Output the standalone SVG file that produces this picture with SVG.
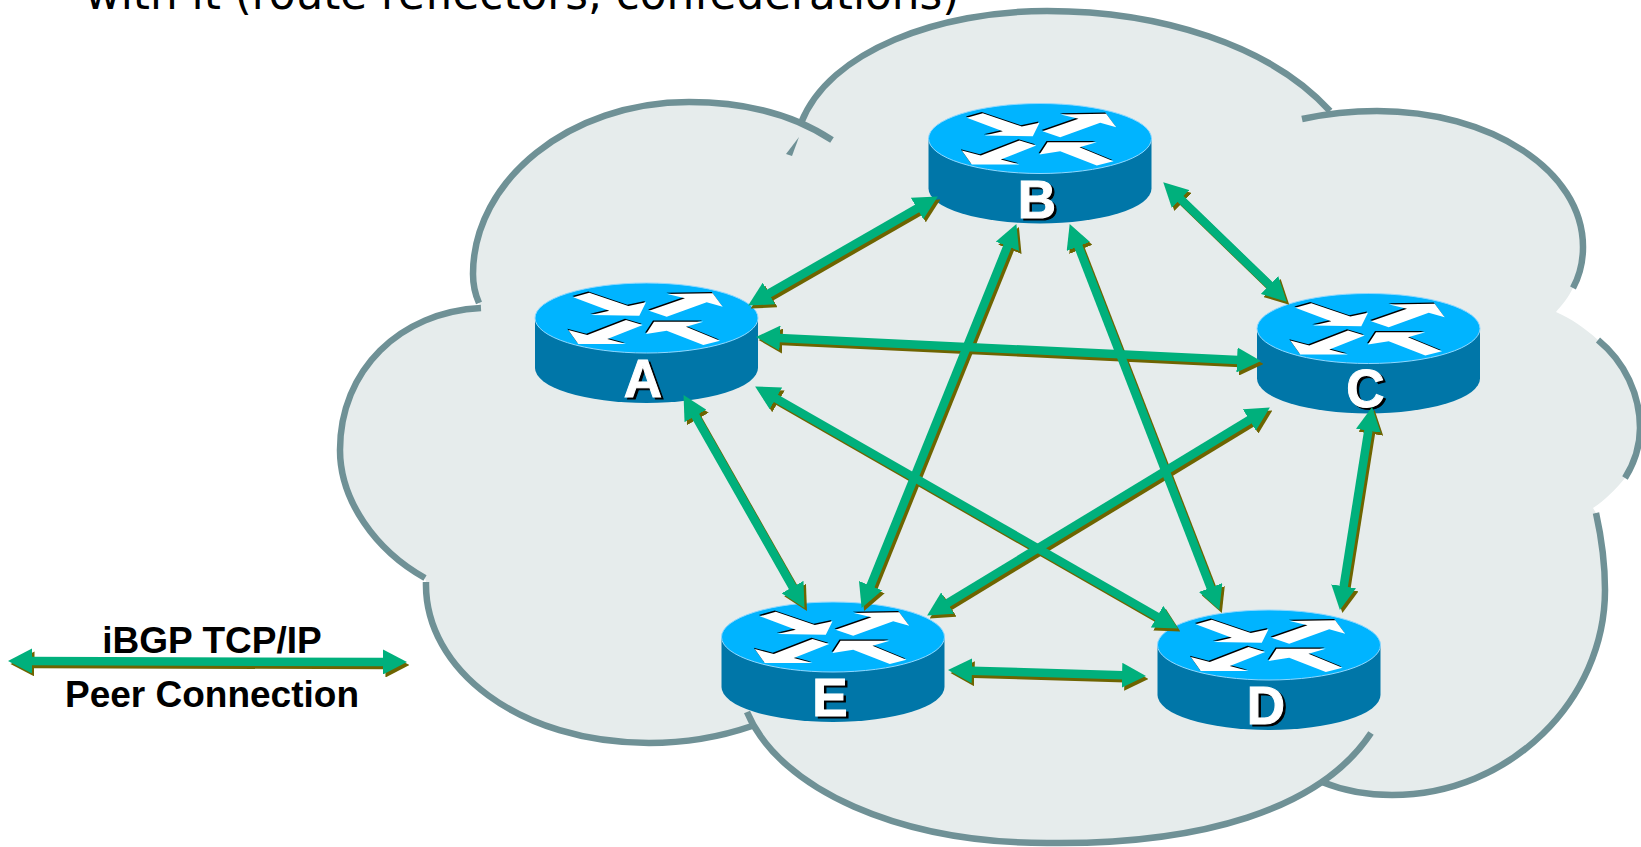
<svg xmlns="http://www.w3.org/2000/svg" width="1641" height="847" viewBox="0 0 1641 847">
<style>
.edge{fill:none;stroke:#6F9196;stroke-width:6.5}
.gl{stroke:#00B07C;stroke-width:8.5;fill:none;marker-start:url(#hg);marker-end:url(#hg)}
.ol{stroke:#6E6400;stroke-width:8.5;fill:none;marker-start:url(#ho);marker-end:url(#ho)}
.lt{font-family:"Liberation Sans",Arial,sans-serif;font-weight:700;font-size:53px;text-anchor:middle;stroke-width:1}
.bk{fill:#000;stroke:#000}
.wh{fill:#fff;stroke:#fff}
.lg{font-family:"Liberation Sans",Arial,sans-serif;font-weight:700;font-size:37px;text-anchor:middle;fill:#000}
</style>
<defs>
<marker id="hg" viewBox="0 0 24 25" refX="1" refY="12.5" markerWidth="24" markerHeight="25" markerUnits="userSpaceOnUse" orient="auto-start-reverse"><path d="M0,0L24,12.5L0,25Z" fill="#00B07C"/></marker>
<marker id="ho" viewBox="0 0 24 25" refX="1" refY="12.5" markerWidth="24" markerHeight="25" markerUnits="userSpaceOnUse" orient="auto-start-reverse"><path d="M0,0L24,12.5L0,25Z" fill="#6E6400"/></marker>
<g id="glyphs">
<polygon points="-73.2,-20.7 -57.2,-25.3 -18.2,-12 -0.5,-15.7 -7.2,-2.3 -55.5,-3 -37.2,-7.3"/>
<polygon points="2.5,-7.3 38.5,-19.7 20.8,-24 66.2,-24.7 76.2,-11.3 60.2,-15.7 20.2,-1.3"/>
<polygon points="-78.2,12 -59.2,17 -20.5,2 -3.8,7 -39.2,21 -20.5,26 -68.2,26"/>
<polygon points="-0.5,16 7.5,3.7 56.8,3.7 39.5,8.7 73.5,22.7 56.8,27 20.2,12.7"/>
</g>
<g id="router">
<path d="M-111.5,0V50A111.5,35 0 0 0 111.5,50V0Z" fill="#0076A8"/>
<ellipse rx="111.5" ry="35" fill="#00B4FF" stroke="#8FD8FF" stroke-width="1"/>
<use href="#glyphs" x="-1" y="-1.3" fill="#000"/>
<use href="#glyphs" fill="#fff"/>
</g>
</defs>
<rect width="1641" height="847" fill="#fff"/>
<text x="85" y="8.5" font-family="'DejaVu Sans',Verdana,sans-serif" font-size="43.7" fill="#000">with it (route reflectors, confederations)</text>
<g id="cloud">
<path fill="#E6ECEC" d="M801,123C830,50 940,11 1047,11C1160,11 1270,45 1330,111C1350,111 1364,111 1377,111C1490,111 1583,170 1583,247C1583,261 1580,275 1573,288C1568,298 1562,305 1556,312C1570,318 1585,328 1598,340C1625,362 1640,395 1640,428C1640,445 1635,462 1625,478C1615,490 1605,500 1593,508L1596,513C1602,540 1605,565 1605,590C1605,700 1510,795 1392,795C1366,795 1342,790 1322,782C1290,810 1200,843 1047,843C900,843 780,790 747,712L752,726C720,737 685,743 649,743C520,743 424,670 426,582L425,578C375,550 340,500 340,450C340,370 400,312 481,308L479,303C475,294 473,284 473,274C473,180 570,102 689,102C740,102 790,112 832,140Z"/>
<path class="edge" d="M801,123C830,50 940,11 1047,11C1160,11 1270,45 1330,111"/>
<path class="edge" d="M1302,119C1325,114 1350,111 1377,111C1490,111 1583,170 1583,247C1583,261 1580,275 1573,288"/>
<path class="edge" d="M1598,340C1625,362 1640,395 1640,428C1640,445 1635,462 1625,478"/>
<path class="edge" d="M1322,782C1342,790 1366,795 1392,795C1510,795 1605,700 1605,590C1605,565 1602,540 1596,513"/>
<path class="edge" d="M747,712C780,790 900,843 1047,843C1200,845 1320,810 1371,733"/>
<path class="edge" d="M426,582C424,670 520,743 649,743C685,743 720,737 752,726"/>
<path class="edge" d="M481,308C400,312 340,370 340,450C340,500 375,550 425,578"/>
<path class="edge" d="M832,140C790,112 740,102 689,102C570,102 473,180 473,274C473,284 475,294 479,303"/>
<polygon points="799,137 786,154 792,156" fill="#6F9196"/>
</g>
<g id="node-A" transform="translate(646.5,318)"><use href="#router"/><text class="lt bk" x="-1" y="81">A</text><text class="lt wh" x="-3.5" y="79">A</text></g>
<g id="node-B" transform="translate(1040,138.5)"><use href="#router"/><text class="lt bk" x="-0.5" y="81">B</text><text class="lt wh" x="-3" y="79">B</text></g>
<g id="node-C" transform="translate(1368.5,328.5)"><use href="#router"/><text class="lt bk" x="-0.5" y="80.5">C</text><text class="lt wh" x="-3" y="78.5">C</text></g>
<g id="node-D" transform="translate(1269,645)"><use href="#router"/><text class="lt bk" x="-0.5" y="81">D</text><text class="lt wh" x="-3" y="79">D</text></g>
<g id="node-E" transform="translate(833,637)"><use href="#router"/><text class="lt bk" x="-0.5" y="81">E</text><text class="lt wh" x="-3" y="79">E</text></g>
<g id="connectors">
<g transform="translate(2.5,3)">
<line class="ol" x1="768.1" y1="294" x2="917.9" y2="208"/>
<line class="ol" x1="779" y1="338" x2="1238" y2="360"/>
<line class="ol" x1="694.9" y1="415.1" x2="793.1" y2="587.9"/>
<line class="ol" x1="775.1" y1="397.9" x2="1157.9" y2="617.1"/>
<line class="ol" x1="1179.8" y1="198.3" x2="1270.2" y2="285.7"/>
<line class="ol" x1="1007.8" y1="245.4" x2="870.2" y2="586.6"/>
<line class="ol" x1="1078" y1="245.5" x2="1211" y2="588.5"/>
<line class="ol" x1="1250.2" y1="419.4" x2="946.8" y2="603.6"/>
<line class="ol" x1="1368.5" y1="429.7" x2="1343.5" y2="587.3"/>
<line class="ol" x1="971" y1="670.7" x2="1123" y2="675.3"/>
<line class="ol" x1="31" y1="661" x2="384" y2="662"/>
</g>
<line class="gl" x1="768.1" y1="294" x2="917.9" y2="208"/>
<line class="gl" x1="779" y1="338" x2="1238" y2="360"/>
<line class="gl" x1="694.9" y1="415.1" x2="793.1" y2="587.9"/>
<line class="gl" x1="775.1" y1="397.9" x2="1157.9" y2="617.1"/>
<line class="gl" x1="1179.8" y1="198.3" x2="1270.2" y2="285.7"/>
<line class="gl" x1="1007.8" y1="245.4" x2="870.2" y2="586.6"/>
<line class="gl" x1="1078" y1="245.5" x2="1211" y2="588.5"/>
<line class="gl" x1="1250.2" y1="419.4" x2="946.8" y2="603.6"/>
<line class="gl" x1="1368.5" y1="429.7" x2="1343.5" y2="587.3"/>
<line class="gl" x1="971" y1="670.7" x2="1123" y2="675.3"/>
<line class="gl" x1="31" y1="661" x2="384" y2="662"/>
</g>
<g id="legend">
<text class="lg" x="212" y="653">iBGP TCP/IP</text>
<text class="lg" x="212" y="707">Peer Connection</text>
</g>
</svg>
